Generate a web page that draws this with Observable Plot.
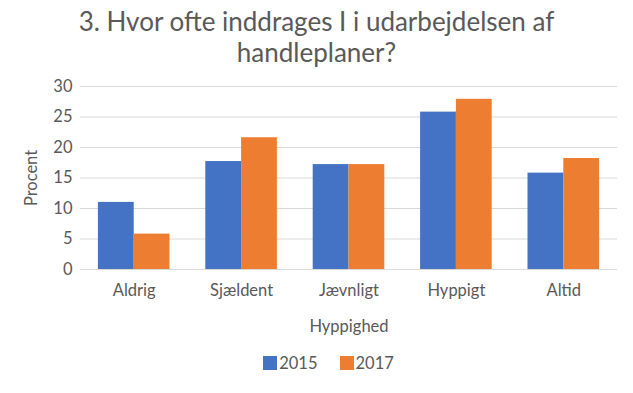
<!DOCTYPE html>
<html>
<head>
<meta charset="utf-8">
<script src="https://cdn.jsdelivr.net/npm/d3@7"></script>
<script src="https://cdn.jsdelivr.net/npm/@observablehq/plot@0.6"></script>
<style>
  body { margin: 0; background: #fff; font-family: Lato, "Open Sans", sans-serif; color: #595959; }
  #wrap { width: 633px; height: 393px; overflow: hidden; }
  #title { height: 76px; box-sizing: border-box; padding-top: 6px; text-align: center; font-size: 26px; line-height: 31px; color: #595959; }
  #legend { display: flex; justify-content: center; align-items: center; gap: 22px; font-size: 16.5px; padding-top: 13px; padding-left: 24px; }
  .key { display: flex; align-items: center; gap: 2px; }
  .sw { width: 14px; height: 14px; display: inline-block; }
</style>
</head>
<body>
<div id="wrap">
  <div id="title">3. Hvor ofte inddrages I i udarbejdelsen af<br>handleplaner?</div>
  <div id="chart"></div>
  <div id="legend"></div>
</div>
<script>
const categories = ["Aldrig", "Sjældent", "Jævnligt", "Hyppigt", "Altid"];
const years = ["2015", "2017"];
const values2015 = [11.0, 17.7, 17.2, 25.8, 15.8];
const values2017 = [5.8, 21.6, 17.2, 27.9, 18.2];
const yTicks = [0, 5, 10, 15, 20, 25, 30];
const colors = ["#4472C4", "#ED7D31"];

// grouped bars on an index scale: each category occupies one unit, bars take 2/3 of it
const groupWidth = 2 / 3;
const data = [];
categories.forEach((c, i) => {
  data.push({i, cat: c, year: years[0], value: values2015[i], x1: i - groupWidth / 2, x2: i});
  data.push({i, cat: c, year: years[1], value: values2017[i], x1: i, x2: i + groupWidth / 2});
});

const chart = Plot.plot({
  width: 633,
  height: 264,
  marginLeft: 80,
  marginRight: 16,
  marginTop: 10,
  marginBottom: 71,
  style: {fontFamily: "Lato, 'Open Sans', sans-serif", fontSize: "16.5px", color: "#595959", background: "#fff"},
  x: {domain: [-0.5, categories.length - 0.5], axis: null},
  y: {domain: [0, 30], ticks: yTicks, axis: null},
  color: {domain: years, range: colors},
  marks: [
    Plot.ruleY(yTicks, {stroke: "#d9d9d9", strokeWidth: 1}),
    Plot.axisY(yTicks, {tickSize: 0, tickPadding: 8, label: "Procent", labelAnchor: "center", labelArrow: false, labelOffset: 55}),
    Plot.rectY(data, {x1: "x1", x2: "x2", y1: 0, y2: "value", fill: "year", insetLeft: 0, insetRight: 0}),
    Plot.axisX(categories.map((c, i) => i), {anchor: "bottom", tickSize: 0, tickPadding: 15, tickFormat: i => categories[i], label: "Hyppighed", labelAnchor: "center", labelArrow: false, labelOffset: 62})
  ]
});
document.getElementById("chart").appendChild(chart);

const legend = document.getElementById("legend");
years.forEach((y, i) => {
  const k = document.createElement("span");
  k.className = "key";
  k.innerHTML = `<span class="sw" style="background:${colors[i]}"></span><span>${y}</span>`;
  legend.appendChild(k);
});
</script>
</body>
</html>
